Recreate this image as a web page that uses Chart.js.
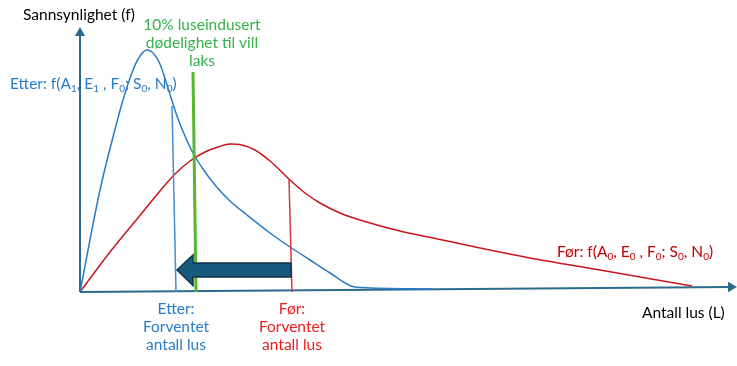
<!DOCTYPE html>
<html>
<head>
<meta charset="utf-8">
<script src="https://cdn.jsdelivr.net/npm/chart.js@4.4.0/dist/chart.umd.min.js"></script>
<style>
  body { margin: 0; background: #fff; }
  #wrap { width: 737px; height: 366px; }
</style>
</head>
<body>
<div id="wrap"><canvas id="chart"></canvas></div>
<script>
// Lice count (L) and probability (f), in diagram units
const etterX = [0, 2.0, 3.3, 4.3, 5.3, 6.0, 6.7, 7.4, 8.0, 8.8, 9.7, 10.5, 11.3, 12.3, 13.5, 15.0, 16.7, 19.0, 21.0, 23.0, 25.0, 27.1, 28.2, 35.2];
const etterY = [0, 10.2, 15.5, 19.2, 22.2, 23.6, 24.2, 23.8, 22.8, 20.4, 17.6, 15.6, 13.9, 12.3, 10.7, 9.1, 7.7, 5.9, 4.5, 3.2, 1.9, 0.6, 0.45, 0.3];

const forX = [0, 3.0, 6.2, 8.0, 9.5, 11.0, 12.5, 13.8, 15.0, 16.2, 17.5, 19.0, 21.0, 22.5, 24.0, 26.0, 29.0, 32.0, 36.0, 40.0, 45.0, 52.0, 61.2];
const forY = [0, 4.0, 7.9, 10.1, 11.8, 13.1, 14.0, 14.5, 14.8, 14.7, 14.2, 13.1, 11.2, 9.9, 8.9, 7.9, 6.9, 6.1, 5.25, 4.4, 3.4, 2.2, 0.6];

// expected lice count, before and after, plus the 10% mortality threshold
const etterMeanX = [9.2, 9.6];
const etterMeanY = [18.6, 0];
const mortalityX = [11.3, 11.6];
const mortalityY = [22.0, 0];
const forMeanX = [20.9, 21.2];
const forMeanY = [11.2, 0];

// the shift arrow (from før to etter)
const shiftX = [21.1, 21.1, 11.3, 11.3, 9.7, 11.3, 11.3, 21.1];
const shiftY = [2.9, 1.5, 1.5, 0.65, 2.2, 3.7, 2.9, 2.9];

// axes
const yAxisX = [0, 0];
const yAxisY = [0, 25.9];
const xAxisX = [0, 65.1];
const xAxisY = [0, 0.5];

const toPoints = (xs, ys) => xs.map((x, i) => ({ x: x, y: ys[i] }));

const labels = [
  { text: "Sannsynlighet (f)", x: 23, y: 15, color: "#000000", align: "left" },
  { text: "10% luseindusert", x: 202, y: 25, color: "#33b24a", align: "center" },
  { text: "dødelighet til vill", x: 202, y: 43, color: "#33b24a", align: "center" },
  { text: "laks", x: 202, y: 61, color: "#33b24a", align: "center" },
  { text: "Etter: f(A_1, E_1 , F_0; S_0, N_0)", x: 10, y: 84, color: "#2b7bc6", align: "left" },
  { text: "Før: f(A_0, E_0 , F_0; S_0, N_0)", x: 557, y: 252, color: "#c00000", align: "left" },
  { text: "Etter:", x: 176, y: 309, color: "#2b7bc6", align: "center" },
  { text: "Forventet", x: 176, y: 327, color: "#2b7bc6", align: "center" },
  { text: "antall lus", x: 176, y: 345, color: "#2b7bc6", align: "center" },
  { text: "Før:", x: 292, y: 309, color: "#ee1c1c", align: "center" },
  { text: "Forventet", x: 292, y: 327, color: "#ee1c1c", align: "center" },
  { text: "antall lus", x: 292, y: 345, color: "#ee1c1c", align: "center" },
  { text: "Antall lus (L)", x: 642, y: 313, color: "#000000", align: "left" }
];

const FONT = "Lato";
const SIZE = 15.5;

// split "A_1" style markers into normal and subscript parts
function splitSub(text) {
  const parts = [];
  let buf = "";
  for (let i = 0; i < text.length; i++) {
    if (text[i] === "_" && i + 1 < text.length) {
      if (buf) parts.push({ t: buf, sub: false });
      buf = "";
      parts.push({ t: text[i + 1], sub: true });
      i++;
    } else {
      buf += text[i];
    }
  }
  if (buf) parts.push({ t: buf, sub: false });
  return parts;
}

const textPlugin = {
  id: "texts",
  afterDraw(chart) {
    const ctx = chart.ctx;
    ctx.save();
    ctx.textBaseline = "middle";
    labels.forEach(l => {
      const parts = splitSub(l.text);
      let w = 0;
      parts.forEach(p => {
        ctx.font = (p.sub ? SIZE * 0.65 : SIZE) + "px " + FONT;
        p.w = ctx.measureText(p.t).width;
        w += p.w;
      });
      let x = l.align === "center" ? l.x - w / 2 : l.x;
      ctx.fillStyle = l.color;
      parts.forEach(p => {
        ctx.font = (p.sub ? SIZE * 0.65 : SIZE) + "px " + FONT;
        ctx.textAlign = "left";
        ctx.fillText(p.t, x, p.sub ? l.y + 5 : l.y);
        x += p.w;
      });
    });
    ctx.restore();
  }
};

const whiteBg = {
  id: "whiteBg",
  beforeDraw(chart) {
    const ctx = chart.ctx;
    ctx.save();
    ctx.fillStyle = "#ffffff";
    ctx.fillRect(0, 0, chart.width, chart.height);
    ctx.restore();
  }
};

new Chart(document.getElementById("chart"), {
  type: "line",
  data: {
    datasets: [
      {
        label: "Forskyvning",
        data: toPoints(shiftX, shiftY),
        borderColor: "#0e3346",
        borderWidth: 1.5,
        backgroundColor: "#175b7c",
        fill: "shape",
        tension: 0,
        order: 0
      },
      {
        label: "Etter",
        data: toPoints(etterX, etterY),
        borderColor: "#2b7bc6",
        borderWidth: 1.5,
        cubicInterpolationMode: "monotone",
        order: 3
      },
      {
        label: "Før",
        data: toPoints(forX, forY),
        borderColor: "#c8161d",
        borderWidth: 1.5,
        cubicInterpolationMode: "monotone",
        order: 3
      },
      {
        label: "Etter forventet",
        data: toPoints(etterMeanX, etterMeanY),
        borderColor: "#3f8fd2",
        borderWidth: 1.5,
        order: 2
      },
      {
        label: "10% dødelighet",
        data: toPoints(mortalityX, mortalityY),
        borderColor: "#5ab532",
        borderWidth: 3,
        order: 1
      },
      {
        label: "Før forventet",
        data: toPoints(forMeanX, forMeanY),
        borderColor: "#d8393f",
        borderWidth: 1.5,
        order: 2
      },
      {
        label: "y-akse",
        data: toPoints(yAxisX, yAxisY),
        borderColor: "#2d6a8c",
        borderWidth: 2,
        pointRadius: [0, 4],
        pointStyle: "triangle",
        pointRotation: 0,
        pointBackgroundColor: "#2d6a8c",
        pointBorderColor: "#2d6a8c",
        order: 4
      },
      {
        label: "x-akse",
        data: toPoints(xAxisX, xAxisY),
        borderColor: "#2d6a8c",
        borderWidth: 2,
        pointRadius: [0, 4],
        pointStyle: "triangle",
        pointRotation: 90,
        pointBackgroundColor: "#2d6a8c",
        pointBorderColor: "#2d6a8c",
        order: 4
      }
    ]
  },
  options: {
    responsive: true,
    maintainAspectRatio: false,
    animation: false,
    layout: { padding: 0, autoPadding: false },
    elements: { point: { radius: 0 } },
    plugins: { legend: { display: false }, tooltip: { enabled: false } },
    scales: {
      x: { type: "linear", display: false, min: -8, max: 65.7 },
      y: { type: "linear", display: false, min: -7.4, max: 29.2 }
    }
  },
  plugins: [whiteBg, textPlugin]
});
</script>
</body>
</html>
